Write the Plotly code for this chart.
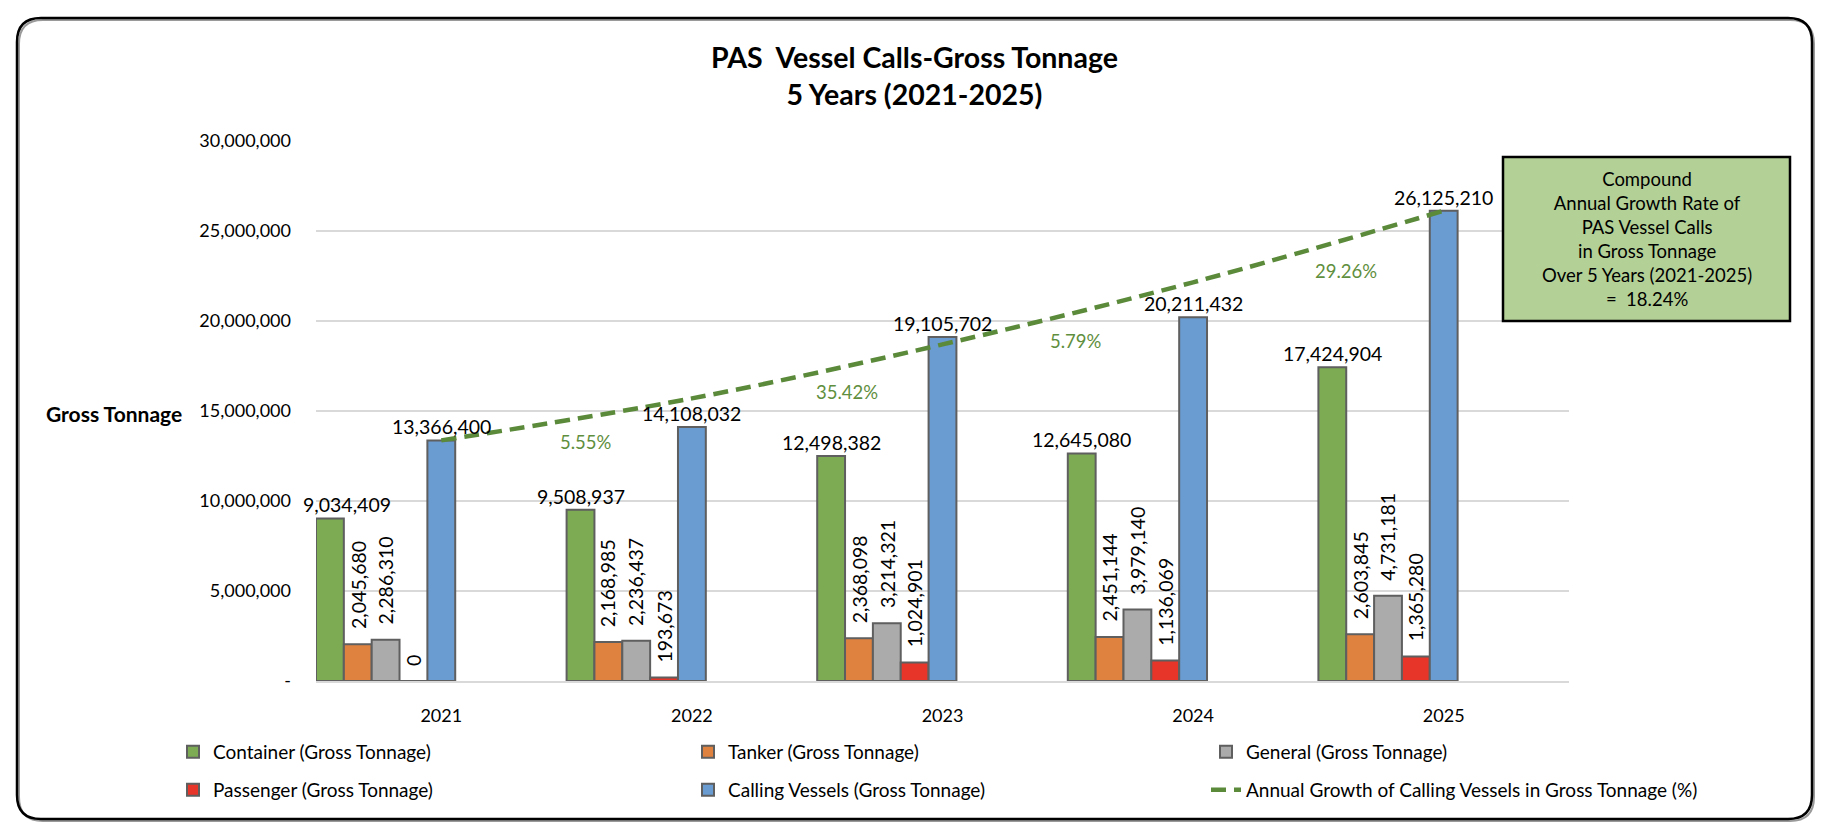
import plotly.graph_objects as go

# ---------------- data ----------------
years = ["2021", "2022", "2023", "2024", "2025"]
container = [9034409, 9508937, 12498382, 12645080, 17424904]
tanker = [2045680, 2168985, 2368098, 2451144, 2603845]
general = [2286310, 2236437, 3214321, 3979140, 4731181]
passenger = [0, 193673, 1024901, 1136069, 1365280]
calling = [13366400, 14108032, 19105702, 20211432, 26125210]
# smoothed growth curve of calling vessels
growth_line = [13366400, 15700000, 18700000, 22150000, 26125210]
growth_pct = ["5.55%", "35.42%", "5.79%", "29.26%"]   # for 2022..2025
cagr_text = "18.24%"
ytick_vals = [0, 5000000, 10000000, 15000000, 20000000, 25000000, 30000000]
ytick_text = ["-", "5,000,000", "10,000,000", "15,000,000", "20,000,000", "25,000,000", "30,000,000"]

series_names = ["Container (Gross Tonnage)", "Tanker (Gross Tonnage)", "General (Gross Tonnage)",
                "Passenger (Gross Tonnage)", "Calling Vessels (Gross Tonnage)"]
series_vals = [container, tanker, general, passenger, calling]
series_colors = ["#7dab54", "#e0823f", "#ababab", "#e8352a", "#6a9bd1"]
label_rotated = [False, True, True, True, False]
line_name = "Annual Growth of Calling Vessels in Gross Tonnage (%)"

# ---------------- layout geometry (pixels) ----------------
W, H = 1828, 838
L, R, T, B = 316, 1569, 141, 681
PW, PH = R - L, B - T
NSLOT = 9
FONT = "Lato"


def paper(px, py):
    return (px - L) / PW, (B - py) / PH


# legend item anchor positions (pixels): one legend per entry
legend_pos = [(173, 752), (688, 752), (1206, 752), (173, 790), (688, 790), (1206, 790)]
legend_ids = ["legend", "legend2", "legend3", "legend4", "legend5", "legend6"]

fig = go.Figure()
xs = list(range(len(years)))

for i, (name, vals, col) in enumerate(zip(series_names, series_vals, series_colors)):
    fig.add_trace(go.Bar(
        x=xs, y=vals, name=name,
        width=1 / NSLOT, offset=-0.5 + i / NSLOT,
        marker=dict(color=col, line=dict(color="#5f5f5f", width=2)),
        legend=legend_ids[i],
        hoverinfo="skip",
    ))

fig.add_trace(go.Scatter(
    x=xs, y=growth_line, mode="lines", name=line_name,
    line=dict(color="#5b8a3a", width=4.5, dash="15px,8px", shape="spline", smoothing=1),
    legend=legend_ids[5], hoverinfo="skip",
))

annotations = []
# bar value labels
special_xshift = {(0, 0): 17}
for i, vals in enumerate(series_vals):
    for j, v in enumerate(vals):
        xc = j - 0.5 + (i + 0.5) / NSLOT
        if label_rotated[i]:
            annotations.append(dict(x=xc, y=v, xref="x", yref="y", text=f"{v:,}",
                                    showarrow=False, textangle=-90, yanchor="bottom",
                                    xanchor="center", yshift=13,
                                    font=dict(family=FONT, size=19.5, color="black")))
        else:
            annotations.append(dict(x=xc, y=v, xref="x", yref="y", text=f"{v:,}",
                                    showarrow=False, yanchor="bottom", xanchor="center",
                                    yshift=0, xshift=special_xshift.get((i, j), 0),
                                    font=dict(family=FONT, size=19.5, color="black")))

# growth % labels (offsets in pixels from the curve points)
pct_dx = [-106, -96, -117, -98]
pct_dy = [44, 48, 59, 60]
for k, txt in enumerate(growth_pct):
    annotations.append(dict(x=k + 1, y=growth_line[k + 1], xref="x", yref="y", text=txt,
                            showarrow=False, xshift=pct_dx[k], yshift=-pct_dy[k],
                            font=dict(family=FONT, size=18.5, color="#5f8f3e")))

# y axis title
gx, gy = paper(184, 413)
annotations.append(dict(x=gx, y=gy, xref="paper", yref="paper", text="<b>Gross Tonnage</b>",
                        showarrow=False, xanchor="right", yanchor="middle",
                        font=dict(family=FONT, size=21, color="black")))

# title
tx, ty = paper(914, 76)
annotations.append(dict(x=tx, y=ty, xref="paper", yref="paper",
                        text="<b>PAS  Vessel Calls-Gross Tonnage<br>5 Years (2021-2025)</b>",
                        showarrow=False, xanchor="center", yanchor="middle",
                        font=dict(family=FONT, size=28.5, color="black")))

# CAGR box
bx0, by0 = paper(1503, 157)
bx1, by1 = paper(1790, 321)
annotations.append(dict(x=(bx0 + bx1) / 2, y=(by0 + by1) / 2, xref="paper", yref="paper",
                        text=("Compound<br>Annual Growth Rate of<br>PAS Vessel Calls<br>"
                              "in Gross Tonnage<br>Over 5 Years (2021-2025)<br>=  " + cagr_text),
                        showarrow=False, xanchor="center", yanchor="middle", align="center",
                        font=dict(family=FONT, size=18.5, color="black")))

shapes = [dict(type="rect", xref="paper", yref="paper", x0=bx0, y0=by0, x1=bx1, y1=by1,
               fillcolor="#b3d096", line=dict(color="black", width=2.5), layer="above")]


def P(px, py):
    a, b = paper(px, py)
    return f"{a:.5f},{b:.5f}"


def rounded(x0, y0, x1, y1, rad):
    return (f"M{P(x0 + rad, y0)} L{P(x1 - rad, y0)} Q{P(x1, y0)} {P(x1, y0 + rad)} "
            f"L{P(x1, y1 - rad)} Q{P(x1, y1)} {P(x1 - rad, y1)} "
            f"L{P(x0 + rad, y1)} Q{P(x0, y1)} {P(x0, y1 - rad)} "
            f"L{P(x0, y0 + rad)} Q{P(x0, y0)} {P(x0 + rad, y0)} Z")


# outer rounded frame with a soft shadow
shapes.append(dict(type="path", xref="paper", yref="paper", path=rounded(19, 20, 1814, 821, 24),
                   line=dict(color="#9a9a9a", width=2), layer="below"))
shapes.append(dict(type="path", xref="paper", yref="paper", path=rounded(17, 18, 1812, 819, 24),
                   line=dict(color="black", width=2.5), layer="above"))

legends = {}
for lid, (px, py) in zip(legend_ids, legend_pos):
    lx, ly = paper(px, py)
    legends[lid] = dict(orientation="h", x=lx, y=ly, xanchor="left", yanchor="middle",
                        font=dict(family=FONT, size=19, color="black"),
                        bgcolor="rgba(0,0,0,0)", borderwidth=0)

fig.update_layout(
    width=W, height=H,
    margin=dict(l=L, r=W - R, t=T, b=H - B, pad=0, autoexpand=False),
    paper_bgcolor="white", plot_bgcolor="white",
    font=dict(family=FONT, size=18, color="black"),
    showlegend=True,
    barmode="overlay",
    xaxis=dict(range=[-0.5, len(years) - 0.5], tickvals=xs, ticktext=years,
               showgrid=False, zeroline=False, showline=True, linecolor="#d9d9d9",
               linewidth=2, ticks="", ticklabelstandoff=17,
               tickfont=dict(family=FONT, size=18, color="black")),
    yaxis=dict(range=[0, 30000000], tickvals=ytick_vals, ticktext=ytick_text,
               showgrid=True, gridcolor="#d9d9d9", gridwidth=1.5, zeroline=False,
               showline=False, ticks="", ticklabelstandoff=24,
               tickfont=dict(family=FONT, size=18, color="black")),
    annotations=annotations,
    shapes=shapes,
    **legends,
)

fig.write_html("out.html", config={"displayModeBar": False},
               post_script="document.body.style.margin='0';document.body.style.overflow='hidden';")
